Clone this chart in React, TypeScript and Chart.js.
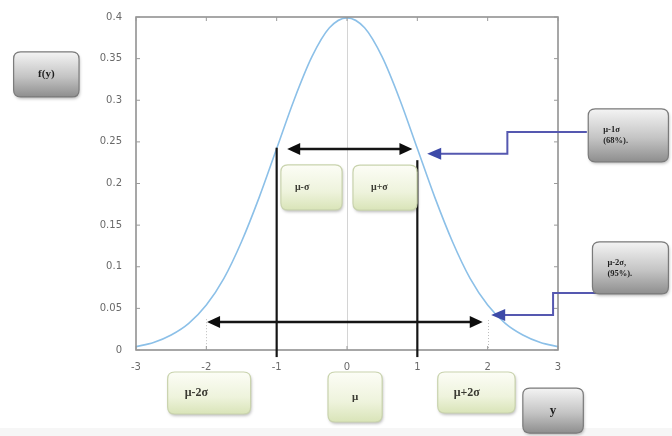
import React, { useEffect, useRef } from "react";
import { Chart, registerables } from "chart.js";

Chart.register(...registerables);

// ---- data ----
const yPositions = [-3, -2.75, -2.5, -2.25, -2, -1.75, -1.5, -1.25, -1, -0.75, -0.5, -0.25, 0, 0.25, 0.5, 0.75, 1, 1.25, 1.5, 1.75, 2, 2.25, 2.5, 2.75, 3];
const densityValues = [0.004, 0.009, 0.018, 0.032, 0.054, 0.086, 0.13, 0.183, 0.242, 0.301, 0.352, 0.387, 0.399, 0.387, 0.352, 0.301, 0.242, 0.183, 0.13, 0.086, 0.054, 0.032, 0.018, 0.009, 0.004];
const xTickValues = [-3, -2, -1, 0, 1, 2, 3];
const yTickValues = [0, 0.05, 0.1, 0.15, 0.2, 0.25, 0.3, 0.35, 0.4];

// annotation geometry (data coordinates)
const blackVerticals = [
  { x: -1, yTop: 0.243, yBottom: -0.0085 },
  { x: 1, yTop: 0.228, yBottom: -0.0085 },
];
const doubleArrows = [
  { x1: -0.85, x2: 0.93, y: 0.2415 },
  { x1: -1.99, x2: 1.93, y: 0.0337 },
];
const blueConnectors = [
  { pts: [[3.41, 0.262], [2.28, 0.262], [2.28, 0.2356], [1.14, 0.2356]] },
  { pts: [[3.85, 0.0685], [2.93, 0.0685], [2.93, 0.042], [2.05, 0.042]] },
];
const dottedGuides = [
  { x: -2, yTop: 0.037 },
  { x: 2, yTop: 0.036 },
];
type Box = { lines: string[]; x1: number; x2: number; y1: number; y2: number; kind: "grey" | "green"; font: string; tx: number | null; lh: number };
const labelBoxes: Box[] = [
  { lines: ["f(y)"], x1: -4.74, x2: -3.81, y1: 0.358, y2: 0.304, kind: "grey", font: "bold 11px 'Liberation Serif'", tx: null, lh: 12 },
  { lines: ["μ-σ"], x1: -0.94, x2: -0.07, y1: 0.2224, y2: 0.1683, kind: "green", font: "bold 10px 'Liberation Serif'", tx: 14, lh: 12 },
  { lines: ["μ+σ"], x1: 0.085, x2: 0.996, y1: 0.222, y2: 0.168, kind: "green", font: "bold 10px 'Liberation Serif'", tx: 18, lh: 12 },
  { lines: ["μ-1σ", "(68%)."], x1: 3.43, x2: 4.57, y1: 0.2897, y2: 0.226, kind: "grey", font: "bold 8.5px 'Liberation Serif'", tx: 15, lh: 11 },
  { lines: ["μ-2σ,", "(95%)."], x1: 3.49, x2: 4.57, y1: 0.13, y2: 0.0673, kind: "grey", font: "bold 8.5px 'Liberation Serif'", tx: 15, lh: 11 },
  { lines: ["μ-2σ"], x1: -2.55, x2: -1.37, y1: -0.0264, y2: -0.0769, kind: "green", font: "bold 12px 'Liberation Serif'", tx: 17, lh: 12 },
  { lines: ["μ"], x1: -0.27, x2: 0.5, y1: -0.0264, y2: -0.0865, kind: "green", font: "bold 11px 'Liberation Serif'", tx: null, lh: 12 },
  { lines: ["μ+2σ"], x1: 1.29, x2: 2.39, y1: -0.0264, y2: -0.0757, kind: "green", font: "bold 12px 'Liberation Serif'", tx: 16, lh: 12 },
  { lines: ["y"], x1: 2.5, x2: 3.36, y1: -0.0457, y2: -0.0998, kind: "grey", font: "bold 13px 'Liberation Serif'", tx: null, lh: 12 },
];

function arrowHead(ctx: CanvasRenderingContext2D, tipX: number, tipY: number, dir: number, len: number, half: number, color: string) {
  ctx.fillStyle = color;
  ctx.beginPath();
  ctx.moveTo(tipX, tipY);
  ctx.lineTo(tipX - dir * len, tipY - half);
  ctx.lineTo(tipX - dir * len, tipY + half);
  ctx.closePath();
  ctx.fill();
}

function rr(ctx: CanvasRenderingContext2D, x: number, y: number, w: number, h: number, r: number) {
  ctx.beginPath();
  ctx.moveTo(x + r, y);
  ctx.lineTo(x + w - r, y);
  ctx.quadraticCurveTo(x + w, y, x + w, y + r);
  ctx.lineTo(x + w, y + h - r);
  ctx.quadraticCurveTo(x + w, y + h, x + w - r, y + h);
  ctx.lineTo(x + r, y + h);
  ctx.quadraticCurveTo(x, y + h, x, y + h - r);
  ctx.lineTo(x, y + r);
  ctx.quadraticCurveTo(x, y, x + r, y);
  ctx.closePath();
}

const annotationPlugin = {
  id: "normalAnnotations",
  beforeDraw(chart: any) {
    const ctx = chart.ctx as CanvasRenderingContext2D;
    ctx.save();
    ctx.fillStyle = "#ffffff";
    ctx.fillRect(0, 0, chart.width, chart.height);
    ctx.fillStyle = "#f6f6f6";
    ctx.fillRect(0, 428, chart.width, chart.height - 428);
    ctx.restore();
  },
  beforeDatasetsDraw(chart: any) {
    const ctx = chart.ctx as CanvasRenderingContext2D;
    const xs = chart.scales.x, ys = chart.scales.y;
    const a = chart.chartArea;
    ctx.save();
    ctx.strokeStyle = "#d4d4d4";
    ctx.lineWidth = 1;
    const x0 = Math.round(xs.getPixelForValue(0)) + 0.5;
    ctx.beginPath();
    ctx.moveTo(x0, a.top);
    ctx.lineTo(x0, a.bottom);
    ctx.stroke();
    ctx.setLineDash([1, 2]);
    ctx.strokeStyle = "#bdbdbd";
    for (const g of dottedGuides) {
      const px = Math.round(xs.getPixelForValue(g.x)) + 0.5;
      ctx.beginPath();
      ctx.moveTo(px, ys.getPixelForValue(g.yTop));
      ctx.lineTo(px, a.bottom);
      ctx.stroke();
    }
    ctx.restore();
  },
  afterDatasetsDraw(chart: any) {
    const ctx = chart.ctx as CanvasRenderingContext2D;
    const xs = chart.scales.x, ys = chart.scales.y;
    const a = chart.chartArea;
    ctx.save();
    ctx.strokeStyle = "#8a8a8a";
    ctx.lineWidth = 1.5;
    ctx.strokeRect(a.left, a.top, a.right - a.left, a.bottom - a.top);
    ctx.lineWidth = 1;
    ctx.strokeStyle = "#9a9a9a";
    for (const v of xTickValues) {
      const px = xs.getPixelForValue(v);
      ctx.beginPath();
      ctx.moveTo(px, a.bottom); ctx.lineTo(px, a.bottom - 4);
      ctx.moveTo(px, a.top); ctx.lineTo(px, a.top + 4);
      ctx.stroke();
    }
    for (const v of yTickValues) {
      const py = ys.getPixelForValue(v);
      ctx.beginPath();
      ctx.moveTo(a.left, py); ctx.lineTo(a.left + 4, py);
      ctx.moveTo(a.right, py); ctx.lineTo(a.right - 4, py);
      ctx.stroke();
    }
    ctx.strokeStyle = "#151515";
    ctx.lineWidth = 2.2;
    for (const v of blackVerticals) {
      const px = xs.getPixelForValue(v.x);
      ctx.beginPath();
      ctx.moveTo(px, ys.getPixelForValue(v.yTop));
      ctx.lineTo(px, ys.getPixelForValue(v.yBottom));
      ctx.stroke();
    }
    for (const d of doubleArrows) {
      const p1 = xs.getPixelForValue(d.x1), p2 = xs.getPixelForValue(d.x2), py = ys.getPixelForValue(d.y);
      ctx.strokeStyle = "#151515";
      ctx.lineWidth = 2.5;
      ctx.beginPath();
      ctx.moveTo(p1 + 10, py);
      ctx.lineTo(p2 - 10, py);
      ctx.stroke();
      arrowHead(ctx, p1, py, -1, 13, 6, "#0d0d0d");
      arrowHead(ctx, p2, py, 1, 13, 6, "#0d0d0d");
    }
    for (const c of blueConnectors) {
      const pts = c.pts.map(([x, y]) => [xs.getPixelForValue(x), ys.getPixelForValue(y)]);
      ctx.strokeStyle = "#5558b0";
      ctx.lineWidth = 2;
      ctx.beginPath();
      ctx.moveTo(pts[0][0], pts[0][1]);
      for (let i = 1; i < pts.length - 1; i++) ctx.lineTo(pts[i][0], pts[i][1]);
      const last = pts[pts.length - 1];
      ctx.lineTo(last[0] + 12, last[1]);
      ctx.stroke();
      arrowHead(ctx, last[0], last[1], -1, 14, 6, "#3d4aa8");
    }
    for (const b of labelBoxes) {
      const x1 = xs.getPixelForValue(b.x1), x2 = xs.getPixelForValue(b.x2);
      const y1 = ys.getPixelForValue(b.y1), y2 = ys.getPixelForValue(b.y2);
      const w = x2 - x1, h = y2 - y1;
      ctx.save();
      ctx.shadowColor = "rgba(0,0,0,0.25)";
      ctx.shadowBlur = 3;
      ctx.shadowOffsetX = 1;
      ctx.shadowOffsetY = 2;
      const g = ctx.createLinearGradient(0, y1, 0, y2);
      if (b.kind === "grey") {
        g.addColorStop(0, "#f4f4f4");
        g.addColorStop(0.55, "#c4c4c4");
        g.addColorStop(1, "#8e8e8e");
      } else {
        g.addColorStop(0, "#fcfdf6");
        g.addColorStop(0.6, "#eef3dc");
        g.addColorStop(1, "#d9e4b8");
      }
      ctx.fillStyle = g;
      rr(ctx, x1, y1, w, h, 7);
      ctx.fill();
      ctx.restore();
      ctx.lineWidth = 1.2;
      ctx.strokeStyle = b.kind === "grey" ? "#7a7a7a" : "#c9d3ad";
      rr(ctx, x1, y1, w, h, 7);
      ctx.stroke();
      ctx.fillStyle = b.kind === "grey" ? "#1e1e1e" : "#3a3a32";
      ctx.font = b.font;
      ctx.textBaseline = "middle";
      ctx.textAlign = b.tx === null ? "center" : "left";
      const tx = b.tx === null ? x1 + w / 2 : x1 + b.tx;
      const cy = y1 + h / 2;
      const n = b.lines.length;
      b.lines.forEach((t, i) => {
        ctx.fillText(t, tx, cy + (i - (n - 1) / 2) * b.lh);
      });
    }
    ctx.restore();
  },
};

export default function App() {
  const ref = useRef<HTMLCanvasElement | null>(null);
  useEffect(() => {
    if (!ref.current) return;
    const chart = new Chart(ref.current, {
      type: "line",
      data: {
        datasets: [
          {
            data: yPositions.map((x, i) => ({ x, y: densityValues[i] })),
            borderColor: "#8cc0e8",
            borderWidth: 1.6,
            pointRadius: 0,
            tension: 0.4,
            cubicInterpolationMode: "monotone",
            fill: false,
          },
        ],
      },
      options: {
        responsive: false,
        animation: false,
        layout: { padding: { left: 0, top: 17, right: 114, bottom: 0 } },
        plugins: { legend: { display: false }, tooltip: { enabled: false } },
        scales: {
          x: {
            type: "linear",
            min: -3,
            max: 3,
            grid: { display: false },
            border: { display: false },
            afterFit: (s: any) => { s.height = 86; },
            afterBuildTicks: (s: any) => { s.ticks = xTickValues.map((v) => ({ value: v })); },
            ticks: {
              padding: 3,
              color: "#6a6a6a",
              font: { family: "'DejaVu Sans'", size: 10 },
              callback: (v: any) => String(v),
            },
          },
          y: {
            type: "linear",
            min: 0,
            max: 0.4,
            grid: { display: false },
            border: { display: false },
            afterFit: (s: any) => { s.width = 136; },
            afterBuildTicks: (s: any) => { s.ticks = yTickValues.map((v) => ({ value: v })); },
            ticks: {
              padding: 6,
              color: "#6a6a6a",
              font: { family: "'DejaVu Sans'", size: 10 },
              callback: (v: any) => String(Number(Number(v).toFixed(2))),
            },
          },
        },
      },
      plugins: [annotationPlugin],
    } as any);
    return () => chart.destroy();
  }, []);
  return (
    <div style={{ position: "absolute", left: 0, top: 0, width: 672, height: 436 }}>
      <canvas ref={ref} width={672} height={436} style={{ display: "block" }} />
    </div>
  );
}
